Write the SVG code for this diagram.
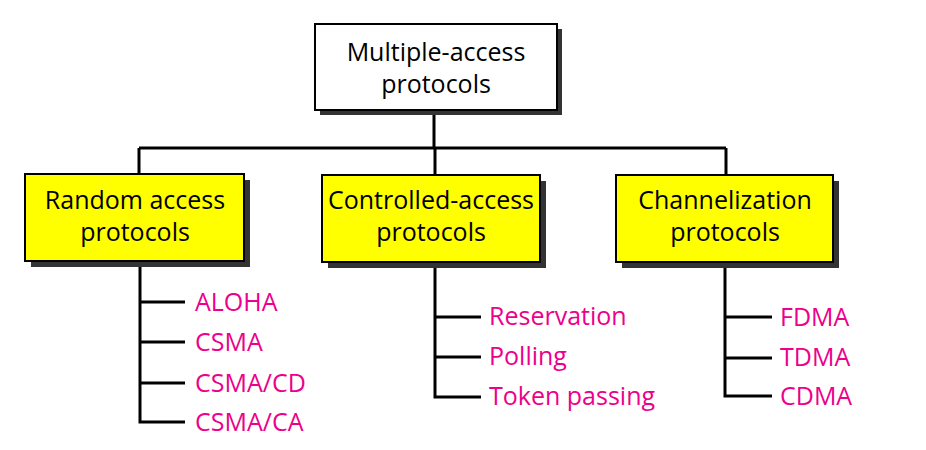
<svg xmlns="http://www.w3.org/2000/svg" width="926" height="450" viewBox="0 0 926 450">
<style>
.box{stroke:#000;stroke-width:2}
.shadow{fill:#333}
.t{font-family:"Open Sans","Noto Sans",sans-serif;font-size:25px;fill:#000;text-anchor:middle}
.p{font-family:"Open Sans","Noto Sans",sans-serif;font-size:25px;fill:#EC008C}
.c{stroke:#000;stroke-width:3;fill:none}
</style>
<rect width="926" height="450" fill="#fff"/>
<g id="connectors">
<path class="c" d="M434 110V148M139 148H726M139 148V175M435 148V175M726 148V175"/>
<path class="c" d="M140 261V422H185M140 302H185M140 342H185M140 383H185"/>
<path class="c" d="M435 262V397H481M435 317H481M435 357H481"/>
<path class="c" d="M725 262V396H772M725 317H772M725 358H772"/>
</g>
<g id="root">
<rect class="shadow" x="320" y="29" width="242" height="86"/>
<rect class="box" x="315" y="24" width="242" height="86" fill="#fff"/>
<text class="t" x="436" y="61"><tspan x="436">Multiple-access</tspan><tspan x="436" dy="32">protocols</tspan></text>
</g>
<g id="random">
<rect class="shadow" x="31" y="180" width="219" height="87"/>
<rect class="box" x="25" y="174" width="219" height="87" fill="#ff0"/>
<text class="t" x="135" y="209"><tspan x="135">Random access</tspan><tspan x="135" dy="32">protocols</tspan></text>
</g>
<g id="controlled">
<rect class="shadow" x="328" y="181" width="218" height="87"/>
<rect class="box" x="322" y="175" width="218" height="87" fill="#ff0"/>
<text class="t" x="431" y="209"><tspan x="431">Controlled-access</tspan><tspan x="431" dy="32">protocols</tspan></text>
</g>
<g id="channel">
<rect class="shadow" x="622" y="181" width="217" height="87"/>
<rect class="box" x="616" y="175" width="217" height="87" fill="#ff0"/>
<text class="t" x="725" y="209"><tspan x="725">Channelization</tspan><tspan x="725" dy="32">protocols</tspan></text>
</g>
<g id="random-items">
<text class="p" x="195" y="311">ALOHA</text>
<text class="p" x="195" y="351">CSMA</text>
<text class="p" x="195" y="392">CSMA/CD</text>
<text class="p" x="195" y="431">CSMA/CA</text>
</g>
<g id="controlled-items">
<text class="p" x="489" y="325">Reservation</text>
<text class="p" x="489" y="365">Polling</text>
<text class="p" x="489" y="405">Token passing</text>
</g>
<g id="channel-items">
<text class="p" x="780" y="326">FDMA</text>
<text class="p" x="780" y="366">TDMA</text>
<text class="p" x="780" y="405">CDMA</text>
</g>
</svg>
